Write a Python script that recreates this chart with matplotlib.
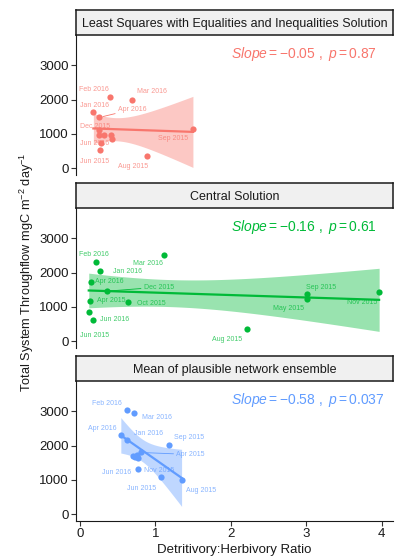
import numpy as np
import matplotlib.pyplot as plt

plt.rcParams['font.family'] = ['Liberation Sans', 'DejaVu Sans']
plt.rcParams['mathtext.fontset'] = 'custom'
plt.rcParams['mathtext.rm'] = 'Liberation Sans'
plt.rcParams['mathtext.it'] = 'Liberation Sans:italic'

months = ['Apr 2015', 'May 2015', 'Jun 2015', 'Aug 2015', 'Sep 2015', 'Oct 2015',
          'Nov 2015', 'Dec 2015', 'Jan 2016', 'Feb 2016', 'Mar 2016', 'Apr 2016', 'Jun 2016']

# detritivory:herbivory ratio and total system throughflow for each solution method
lsei_ratio = [0.257, 0.32, 0.265, 0.893, 1.499, 0.42, 0.43, 0.257, 0.18, 0.40, 0.69, 0.257, 0.275]
lsei_tst = [961, 961, 524, 340, 1145, 961, 845, 1115, 1622, 2087, 1995, 1476, 719]

central_ratio = [0.141, 3.011, 0.119, 2.219, 3.011, 0.641, 3.966, 0.358, 0.265, 0.212, 1.114, 0.146, 0.172]
central_tst = [1183, 1242, 861, 352, 1360, 1143, 1418, 1456, 2051, 2306, 2502, 1711, 627]

ensemble_ratio = [0.805, 0.699, 0.773, 1.349, 1.184, 0.752, 1.07, 0.733, 0.632, 0.632, 0.725, 0.544, 0.773]
ensemble_tst = [1797, 1699, 1622, 981, 2020, 1738, 1069, 1660, 2156, 3029, 2961, 2292, 1302]

titles = ['Least Squares with Equalities and Inequalities Solution',
          'Central Solution',
          'Mean of plausible network ensemble']
stats_text = [r'$\mathit{Slope} = -0.05\ ,\ \mathit{p} = 0.87$',
              r'$\mathit{Slope} = -0.16\ ,\ \mathit{p} = 0.61$',
              r'$\mathit{Slope} = -0.58\ ,\ \mathit{p} = 0.037$']
colors = ['#F8766D', '#00BA38', '#619CFF']

# repelled label offsets in pixels (dx, dy); None = label dropped, flag = leader segment
label_offsets = [
    [None, None, (-5, -11), (-14, -10), (-20, -10), None, None, (-4, 3),
     (1, 7), (-16, 7), (20, 8), (33, 8, True), (-6, 0)],
    [(21, 0), (-19, -10), (6, -24), (-20, -10), (14, 7), (23, -2), (-17, -10),
     (52, 4, True), (28, -1), (-2, 8), (-16, -8), (18, 1), (22, 0)],
    [(50, -2, True), None, (3, -30), (19, -10), (20, 7), None, (-1, 7), None,
     (21, 7), (-21, 7), (22, -5), (-19, 7), (-22, -3)],
]

panels = [(lsei_ratio, lsei_tst), (central_ratio, central_tst), (ensemble_ratio, ensemble_tst)]

W, H = 399, 556
fig = plt.figure(figsize=(W / 100, H / 100), dpi=100)
left, right = 76, 393
strip_tops = [10, 183, 356]
strip_h, panel_h = 25, 140
px2pt = 72 / 100

T_CRIT = 2.201  # t(0.975, df=11)

for i, (xs, ys) in enumerate(panels):
    xs = np.array(xs)
    ys = np.array(ys)
    col = colors[i]
    st = strip_tops[i]
    pt = st + strip_h
    ax = fig.add_axes([left / W, 1 - (pt + panel_h) / H, (right - left) / W, panel_h / H])
    sax = fig.add_axes([left / W, 1 - pt / H, (right - left) / W, strip_h / H])

    # strip
    sax.set_facecolor('#F0F0F0')
    sax.set_xticks([])
    sax.set_yticks([])
    for s in sax.spines.values():
        s.set_linewidth(1.1)
        s.set_color('#1a1a1a')
    sax.text(0.5, 0.45, titles[i], ha='center', va='center', fontsize=9,
             color='#1a1a1a', transform=sax.transAxes)

    # linear fit with 95% confidence band
    n = len(xs)
    b, a = np.polyfit(xs, ys, 1)
    xg = np.linspace(xs.min(), xs.max(), 80)
    fit = a + b * xg
    resid = ys - (a + b * xs)
    s_err = np.sqrt(np.sum(resid ** 2) / (n - 2))
    sxx = np.sum((xs - xs.mean()) ** 2)
    se = s_err * np.sqrt(1 / n + (xg - xs.mean()) ** 2 / sxx)
    ax.fill_between(xg, fit - T_CRIT * se, fit + T_CRIT * se, color=col, alpha=0.4, lw=0, zorder=1)
    ax.plot(xg, fit, color=col, lw=1.6, zorder=2)
    ax.scatter(xs, ys, s=20, color=col, zorder=3, linewidths=0)

    for j, off in enumerate(label_offsets[i]):
        if off is None:
            continue
        seg = len(off) > 2
        kw = {}
        if seg:
            kw['arrowprops'] = dict(arrowstyle='-', color=col, lw=0.6, shrinkA=0, shrinkB=3)
        ax.annotate(months[j], (xs[j], ys[j]), xytext=(off[0] * px2pt, off[1] * px2pt),
                    textcoords='offset points', ha='center', va='center',
                    fontsize=5, color=col, alpha=0.75, zorder=4, **kw)

    ax.text(2.0, 3330, stats_text[i], ha='left', va='center', fontsize=10, color=col)

    ax.set_xlim(-0.05, 4.15)
    ax.set_ylim(-200, 3880)
    ax.set_yticks([0, 1000, 2000, 3000])
    for s in ['top', 'right']:
        ax.spines[s].set_visible(False)
    ax.spines['left'].set_color('#1a1a1a')
    ax.spines['left'].set_linewidth(0.8)
    ax.tick_params(axis='y', length=3.5, width=0.8, color='#333333', labelsize=9.5,
                   labelcolor='#1a1a1a', pad=1.5)
    if i < 2:
        ax.spines['bottom'].set_visible(False)
        ax.set_xticks([])
    else:
        ax.spines['bottom'].set_color('#1a1a1a')
        ax.spines['bottom'].set_linewidth(0.8)
        ax.set_xticks([0, 1, 2, 3, 4])
        ax.tick_params(axis='x', length=3.5, width=0.8, color='#333333', labelsize=9.5,
                       labelcolor='#1a1a1a', pad=1.5)
        ax.set_xlabel('Detritivory:Herbivory Ratio', fontsize=9.5, color='#1a1a1a', labelpad=3)

fig.text(27 / W, 1 - 272 / H, r'Total System Throughflow mgC m$^{-2}$ day$^{-1}$',
         rotation=90, ha='center', va='center', fontsize=9.2, color='#1a1a1a')

fig.savefig('out.png', dpi=100)
